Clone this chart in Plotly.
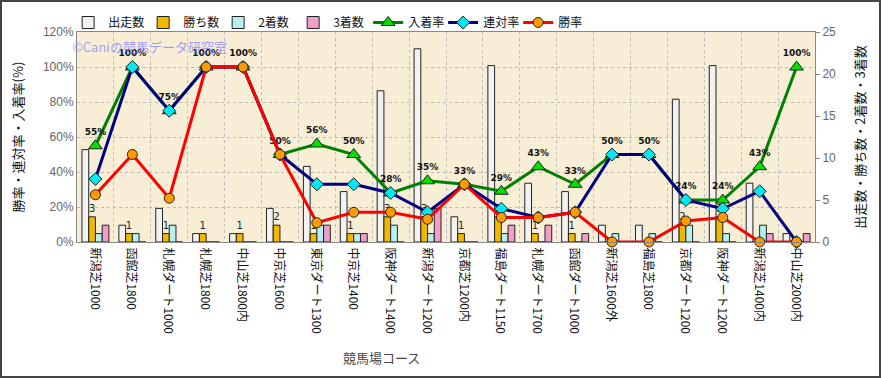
import plotly.graph_objects as go

courses = ["新潟芝1000", "函館芝1800", "札幌ダート1000", "札幌芝1800", "中山芝1800内",
           "中京芝1600", "東京ダート1300", "中京芝1400", "阪神ダート1400", "新潟ダート1200",
           "京都芝1200内", "福島ダート1150", "札幌ダート1700", "函館ダート1000", "新潟芝1600外",
           "福島芝1800", "京都ダート1200", "阪神ダート1200", "新潟芝1400内", "中山芝2000内"]
starts = [11, 2, 4, 1, 1, 4, 9, 6, 18, 23, 3, 21, 7, 6, 2, 2, 17, 21, 7, 1]
wins = [3, 1, 1, 1, 1, 2, 1, 1, 3, 3, 1, 3, 1, 1, 0, 0, 2, 3, 0, 0]
seconds = [1, 1, 2, 0, 0, 0, 2, 1, 2, 1, 0, 1, 0, 0, 1, 1, 2, 1, 2, 0]
thirds = [2, 0, 0, 0, 0, 0, 2, 1, 0, 4, 0, 2, 2, 1, 0, 0, 0, 0, 1, 1]
place_rate = [55, 100, 75, 100, 100, 50, 56, 50, 28, 35, 33, 29, 43, 33, 50, 50, 24, 24, 43, 100]
quinella_rate = [36, 100, 75, 100, 100, 50, 33, 33, 28, 17, 33, 19, 14, 17, 50, 50, 24, 19, 29, 0]
win_rate = [27, 50, 25, 100, 100, 50, 11, 17, 17, 13, 33, 14, 14, 17, 0, 0, 12, 14, 0, 0]

JP = "Noto Sans CJK JP"
fig = go.Figure()

bar_line = dict(color="#222", width=1)
fig.add_trace(go.Bar(x=courses, y=starts, name="出走数", marker=dict(color="#f2f2f2", line=bar_line), yaxis="y"))
fig.add_trace(go.Bar(x=courses, y=wins, name="勝ち数", marker=dict(color="#f2b800", line=bar_line), yaxis="y",
                     text=[str(v) if v > 0 else "" for v in wins], textposition="outside",
                     constraintext="none", cliponaxis=False,
                     textfont=dict(family="DejaVu Sans", size=10, color="#222")))
fig.add_trace(go.Bar(x=courses, y=seconds, name="2着数", marker=dict(color="#b8f0f0", line=bar_line), yaxis="y"))
fig.add_trace(go.Bar(x=courses, y=thirds, name="3着数", marker=dict(color="#f0a0c8", line=bar_line), yaxis="y"))

fig.add_trace(go.Scatter(x=courses, y=place_rate, name="入着率", yaxis="y2", mode="lines+markers+text",
                         line=dict(color="#008000", width=3),
                         marker=dict(symbol="triangle-up", size=12, color="#00e000", line=dict(color="#222", width=1)),
                         text=[f"<b>{v}%</b>" for v in place_rate], textposition="top center",
                         textfont=dict(family="DejaVu Sans", size=9, color="#111"), cliponaxis=False))
fig.add_trace(go.Scatter(x=courses, y=quinella_rate, name="連対率", yaxis="y2", mode="lines+markers",
                         line=dict(color="#000080", width=3),
                         marker=dict(symbol="diamond", size=10, color="#00e8f0", line=dict(color="#222", width=1)),
                         cliponaxis=False))
fig.add_trace(go.Scatter(x=courses, y=win_rate, name="勝率", yaxis="y2", mode="lines+markers",
                         line=dict(color="#ff0000", width=3),
                         marker=dict(symbol="circle", size=10, color="#ff9a00", line=dict(color="#222", width=1)),
                         cliponaxis=False))

L, R, T, B = 77, 66, 32, 136
W, H = 881, 378
pw, ph = W - L - R, H - T - B

fig.update_layout(
    width=W, height=H,
    margin=dict(l=L, r=R, t=T, b=B, autoexpand=False),
    paper_bgcolor="white",
    plot_bgcolor="#f8eed6",
    barmode="group", bargap=0.27, bargroupgap=0,
    font=dict(family=JP, size=12, color="#222"),
    showlegend=True,
    legend=dict(orientation="h", x=-0.012, y=1 + 24 / ph, xanchor="left", yanchor="top",
                font=dict(family=JP, size=12, color="#111"), bgcolor="rgba(0,0,0,0)",
                itemwidth=30, entrywidth=30, tracegroupgap=0, traceorder="normal"),
    xaxis=dict(type="category", range=[-0.5, len(courses) - 0.5], autorange=False,
               tickangle=90, tickson="boundaries", showgrid=True, automargin=False,
               ticklabelshift=-1, ticklabelstandoff=2,
               gridcolor="#bbb", griddash="dot", gridwidth=1,
               showline=True, linecolor="#888", linewidth=1, mirror=True, ticks="",
               tickfont=dict(family=JP, size=12, color="#111")),
    yaxis=dict(side="right", range=[0, 25], dtick=5, showgrid=False, zeroline=False, automargin=False,
               showline=True, linecolor="#888", ticks="outside", ticklen=4, tickcolor="#888",
               tickfont=dict(family="Liberation Sans", size=12, color="#666"),
               title=dict(text="出走数・勝ち数・2着数・3着数", font=dict(family=JP, size=13, color="#111"), standoff=20)),
    yaxis2=dict(side="left", overlaying="y", range=[0, 120], dtick=20, ticksuffix="%", automargin=False,
                showgrid=True, gridcolor="#bbb", griddash="dot", gridwidth=1, zeroline=False,
                showline=True, linecolor="#888",
                tickfont=dict(family="Liberation Sans", size=12, color="#666"),
                title=dict(text="勝率・連対率・入着率(%)", font=dict(family=JP, size=13, color="#111"), standoff=16)),
    annotations=[
        dict(text="©Caniの競馬データ研究室", xref="paper", yref="paper",
             x=(70 - L) / pw, y=1 - (47 - T) / ph, xanchor="left", yanchor="middle",
             showarrow=False, font=dict(family=JP, size=13, color="rgba(130,130,255,0.75)")),
        dict(text="競馬場コース", xref="paper", yref="paper",
             x=(381 - L) / pw, y=-(357 - T - ph) / ph, xanchor="center", yanchor="middle",
             showarrow=False, font=dict(family=JP, size=13, color="#444")),
    ],
    shapes=[dict(type="rect", xref="paper", yref="paper",
                 x0=(1 - L) / pw, x1=(W - 1 - L) / pw, y0=-(B - 1) / ph, y1=1 + (T - 1) / ph,
                 line=dict(color="#444", width=2), layer="above")],
)

fig.write_html("out.html", config={"displayModeBar": False},
               post_script="document.body.style.margin='0';")
